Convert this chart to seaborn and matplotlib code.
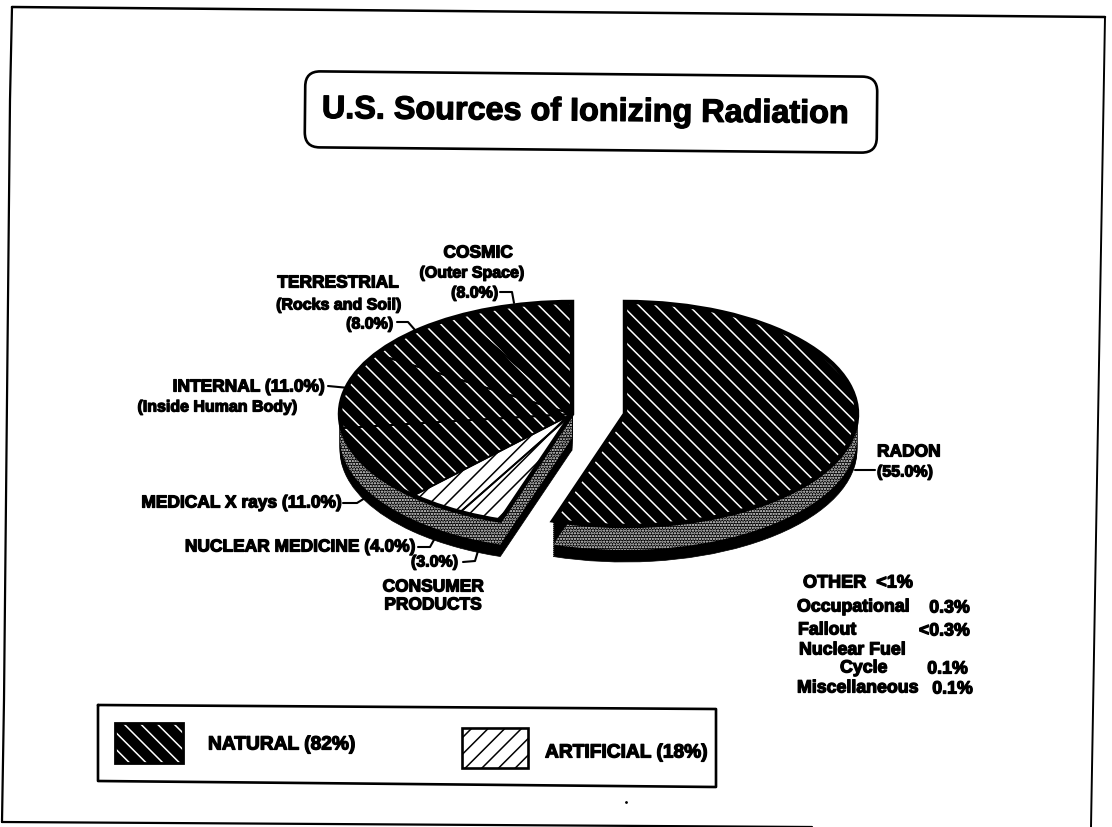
import matplotlib
matplotlib.use("Agg")
import numpy as np
import seaborn as sns
import matplotlib.pyplot as plt
import matplotlib.patheffects as pe
from matplotlib.patches import FancyBboxPatch, Rectangle
from matplotlib.transforms import Affine2D

# percentages as printed on the slide
radon = [55.0]
rest_labels = ["CONSUMER PRODUCTS", "NUCLEAR MEDICINE", "MEDICAL X rays", "INTERNAL", "TERRESTRIAL", "COSMIC"]
rest_values = [3.0, 4.0, 11.0, 11.0, 8.0, 8.0]
# the white wedge in the picture only covers the first two slices
rest_light = [True, True, False, False, False, False]

other_lines = ["Occupational", "Fallout", "Nuclear Fuel", "Cycle", "Miscellaneous"]
other_values = ["0.3%", "<0.3%", "", "0.1%", "0.1%"]

W, H = 1112, 827
RX, RY = 232, 112   # pie radius in pixels, x and y (tilted look)
DEPTH = 36
FONT = "Liberation Sans"
HATCH_DOWN = "\\" * 2
HATCH_UP = "/" * 2
SMEAR = [pe.withStroke(linewidth=0.9, foreground="black")]  # photocopied, heavy text

sns.set_theme(style="white")
plt.rcParams["font.family"] = [FONT, "DejaVu Sans"]
plt.rcParams["hatch.linewidth"] = 1.1

fig = plt.figure(figsize=(W / 100, H / 100), dpi=100, facecolor="white")
ax_pie = fig.add_axes([0, 0, 1, 1])
ax = fig.add_axes([0, 0, 1, 1], facecolor="none")
ax.set_xlim(0, W)
ax.set_ylim(H, 0)
ax.axis("off")


def to_units(cx, cy):
    return cx / RX, (H - cy) / RY


def pie_layer(values, cx, cy, start, **kw):
    fracs = np.array(values) / 100
    wedges, _ = ax_pie.pie(fracs, normalize=False, center=to_units(cx, cy), radius=1,
                           startangle=start, counterclock=False, wedgeprops=kw)
    return wedges


def draw_piece(values, cx, cy, start, light, stipple_offset, stipple_x):
    # black extruded side
    for d in range(DEPTH, 0, -2):
        pie_layer(values, cx, cy + d, start, facecolor="black", edgecolor="black", linewidth=0.5)
    # speckled band of the side wall
    for w in pie_layer(values, cx, cy + stipple_offset, start, facecolor="black",
                       edgecolor="#f0f0f0", hatch="......", linewidth=0):
        w.set_clip_path(Rectangle((stipple_x[0] / RX, 0), (stipple_x[1] - stipple_x[0]) / RX, H / RY,
                                  transform=ax_pie.transData))
    # top face
    for w, is_light in zip(pie_layer(values, cx, cy, start, linewidth=0), light):
        if is_light:
            w.set(facecolor="white", edgecolor="black", hatch=HATCH_UP)
        else:
            w.set(facecolor="black", edgecolor="white", hatch=HATCH_DOWN)
    # thin slice borders, heavy outline around the whole piece
    pie_layer(values, cx, cy, start, fill=False, edgecolor="black", linewidth=1.3)
    pie_layer([sum(values)], cx, cy, start, fill=False, edgecolor="black", linewidth=3.2)


draw_piece(radon, 625, 414, 90, [False], 24, (590, 900))
draw_piece(rest_values, 572, 414, 90 - 198, rest_light, 24, (376, 600))

ax_pie.set_aspect("auto")
ax_pie.set_xlim(0, W / RX)
ax_pie.set_ylim(0, H / RY)
ax_pie.axis("off")

# page frame, the scan is slightly skewed
ax.plot([12, 1105], [7, 17], color="black", lw=1.8)
ax.plot([12, 10, 4, 2], [7, 100, 700, 822], color="black", lw=1.6)
ax.plot([1105, 1091], [17, 827], color="black", lw=1.4)
ax.plot([2, 812], [822, 827], color="black", lw=1.6)

# title box
tilt = Affine2D().rotate_deg_around(591, 112, 0.55) + ax.transData
ax.add_patch(FancyBboxPatch((318, 87), 546, 50, boxstyle="round,pad=13,rounding_size=15",
                            fc="white", ec="black", lw=1.9, transform=tilt))
ax.text(585.5, 120.5, "U.S. Sources of Ionizing Radiation", ha="center", va="baseline",
        rotation=-0.55, rotation_mode="anchor", fontsize=23.3, fontweight="bold", color="black",
        path_effects=SMEAR)


def label(x, y, s, size=12.5, ha="center"):
    ax.text(x, y, s, ha=ha, va="center", fontsize=size, fontweight="bold", color="black",
            path_effects=SMEAR)


label(478, 253, "COSMIC")
label(472, 273, "(Outer Space)", 11.5)
label(498, 293, f"({rest_values[5]:.1f}%)", ha="right", size=11.5)
label(338, 283, "TERRESTRIAL")
label(339, 305, "(Rocks and Soil)", 11.5)
label(393, 324, f"({rest_values[4]:.1f}%)", ha="right", size=11.5)
label(325, 387, f"INTERNAL ({rest_values[3]:.1f}%)", ha="right")
label(298, 407, "(Inside Human Body)", 11.5, ha="right")
label(342, 503, f"MEDICAL X rays ({rest_values[2]:.1f}%)", ha="right")
label(415, 547, f"NUCLEAR MEDICINE ({rest_values[1]:.1f}%)", ha="right")
label(458, 562, f"({rest_values[0]:.1f}%)", ha="right", size=11.5)
label(433, 587, "CONSUMER")
label(433, 605, "PRODUCTS")
label(877, 452, "RADON", ha="left")
label(877, 472, f"({radon[0]:.1f}%)", ha="left", size=11.5)

# leader lines
ax.plot([500, 512, 514], [292, 292, 303], color="black", lw=1.5)
ax.plot([397, 408, 415], [322, 322, 330], color="black", lw=1.5)
ax.plot([328, 349], [386, 388], color="black", lw=1.5)
ax.plot([343, 357, 365], [503, 503, 498], color="black", lw=1.5)
ax.plot([418, 430, 435], [547, 547, 538], color="black", lw=1.5)
ax.plot([463, 475, 478], [562, 561, 551], color="black", lw=1.5)
ax.plot([855, 875], [470, 470], color="black", lw=1.5)

# OTHER block
label(803, 583, "OTHER  <1%", ha="left", size=13)
for txt, x, y in zip(other_lines, [797, 798, 799, 840, 797], [607, 630, 650, 668, 688]):
    label(x, y, txt, ha="left", size=12.8)
label(970, 608, other_values[0], ha="right", size=12.8)
label(970, 631, other_values[1], ha="right", size=12.8)
label(968, 669, other_values[3], ha="right", size=12.8)
label(973, 689, other_values[4], ha="right", size=12.8)

# legend
ax.plot([98, 716, 716, 98, 98], [705, 709, 787, 781, 705], color="black", lw=1.9)
ax.add_patch(Rectangle((115, 723), 68, 40, fc="black", ec="white", hatch=HATCH_DOWN, lw=0))
ax.add_patch(Rectangle((115, 723), 68, 40, fill=False, ec="black", lw=2))
ax.add_patch(Rectangle((462, 728), 66, 40, fc="white", ec="black", hatch=HATCH_UP, lw=1.9))
label(208, 745, "NATURAL (82%)", ha="left", size=13.8)
label(545, 753, "ARTIFICIAL (18%)", ha="left", size=13.8)

ax.plot([626], [802], marker=".", ms=2, color="black")

fig.savefig("out.png", dpi=100)
